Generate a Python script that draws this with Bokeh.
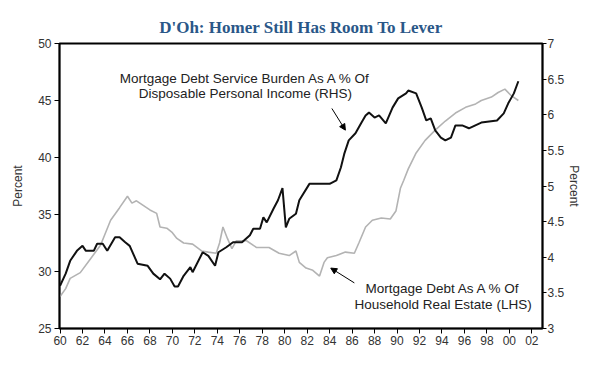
from bokeh.plotting import figure
from bokeh.models import Range1d, LinearAxis, FixedTicker, Arrow, NormalHead, ColumnDataSource
from bokeh.core.properties import value
from bokeh.embed import file_html
from bokeh.resources import INLINE

# Mortgage debt as % of household real estate (LHS)
lhs_years = [1960.0, 1960.5, 1960.9, 1961.8, 1962.7, 1963.6, 1964.5, 1965.3, 1966.0, 1966.4,
             1966.8, 1967.4, 1968.0, 1968.6, 1968.9, 1969.5, 1970.0, 1970.4, 1971.0, 1971.8,
             1972.6, 1973.2, 1973.9, 1974.2, 1974.5, 1974.9, 1975.3, 1975.7, 1976.6, 1977.5,
             1978.6, 1979.5, 1980.4, 1981.0, 1981.3, 1981.9, 1982.5, 1983.1, 1983.5, 1983.8,
             1984.6, 1985.4, 1986.2, 1986.6, 1987.2, 1987.8, 1988.6, 1989.4, 1989.9, 1990.3,
             1990.6, 1991.0, 1991.7, 1992.5, 1993.4, 1994.3, 1995.2, 1996.1, 1997.0, 1997.5,
             1998.4, 1999.0, 1999.6, 2000.2, 2000.8]
lhs_values = [27.8, 28.5, 29.4, 29.9, 31.1, 32.3, 34.5, 35.6, 36.6, 36.0,
              36.2, 35.8, 35.4, 35.1, 33.9, 33.8, 33.4, 32.9, 32.5, 32.4,
              31.8, 31.7, 31.6, 32.5, 33.9, 32.9, 32.0, 32.7, 32.7, 32.1,
              32.1, 31.6, 31.4, 31.8, 30.8, 30.3, 30.1, 29.6, 30.8, 31.2,
              31.4, 31.7, 31.6, 32.5, 33.9, 34.5, 34.7, 34.6, 35.3, 37.3,
              38.0, 39.0, 40.4, 41.5, 42.4, 43.2, 43.9, 44.4, 44.7, 45.0,
              45.3, 45.7, 46.0, 45.4, 45.0]

# Mortgage debt service burden as % of disposable personal income (RHS)
rhs_years = [1960.0, 1960.5, 1960.9, 1961.5, 1962.0, 1962.3, 1963.0, 1963.3, 1963.8, 1964.2,
             1964.9, 1965.3, 1965.8, 1966.2, 1966.9, 1967.8, 1968.3, 1968.9, 1969.3, 1969.8,
             1970.2, 1970.5, 1971.0, 1971.6, 1971.8, 1972.7, 1973.2, 1973.8, 1974.1, 1974.8,
             1975.4, 1976.2, 1976.9, 1977.2, 1977.8, 1978.1, 1978.4, 1979.0, 1979.4, 1979.8,
             1980.1, 1980.4, 1981.0, 1981.3, 1982.2, 1982.6, 1984.0, 1984.6, 1985.0, 1985.3,
             1985.7, 1986.3, 1986.8, 1987.2, 1987.5, 1988.0, 1988.4, 1989.0, 1989.6, 1990.1,
             1990.8, 1991.0, 1991.7, 1992.2, 1992.6, 1993.0, 1993.4, 1993.9, 1994.3, 1994.8,
             1995.2, 1995.8, 1996.4, 1997.5, 1998.9, 1999.5, 1999.9, 2000.4, 2000.8]
rhs_values = [3.60, 3.77, 3.95, 4.09, 4.16, 4.09, 4.09, 4.19, 4.19, 4.09,
              4.28, 4.28, 4.21, 4.16, 3.91, 3.88, 3.77, 3.69, 3.77, 3.70,
              3.59, 3.59, 3.74, 3.86, 3.79, 4.07, 4.02, 3.88, 4.07, 4.14,
              4.21, 4.21, 4.31, 4.40, 4.40, 4.56, 4.49, 4.68, 4.80, 4.97,
              4.42, 4.54, 4.61, 4.80, 5.03, 5.03, 5.03, 5.08, 5.26, 5.45,
              5.64, 5.74, 5.88, 5.99, 6.03, 5.96, 5.99, 5.88, 6.10, 6.23,
              6.30, 6.34, 6.30, 6.10, 5.92, 5.95, 5.78, 5.68, 5.64, 5.68,
              5.85, 5.85, 5.81, 5.89, 5.92, 6.02, 6.16, 6.30, 6.47]

x_ticks = list(range(1960, 2003, 2))
x_tick_labels = ["60", "62", "64", "66", "68", "70", "72", "74", "76", "78", "80", "82",
                 "84", "86", "88", "90", "92", "94", "96", "98", "00", "02"]
lhs_ticks = [25, 30, 35, 40, 45, 50]
rhs_ticks = [3, 3.5, 4, 4.5, 5, 5.5, 6, 6.5, 7]
rhs_tick_labels = ["3", "3.5", "4", "4.5", "5", "5.5", "6", "6.5", "7"]

title_text = "D'Oh: Homer Still Has Room To Lever"
axis_title = "Percent"
rhs_note = ["Mortgage Debt Service Burden As A % Of", "Disposable Personal Income (RHS)"]
lhs_note = ["Mortgage Debt As A % Of", "Household Real Estate (LHS)"]

FONT = "Liberation Sans"
TXT = "#333333"

p = figure(width=584, height=350, output_backend="svg", toolbar_location=None,
           x_range=Range1d(1959.95, 2002.95), y_range=Range1d(25, 50),
           min_border_left=59, min_border_right=40, min_border_top=43, min_border_bottom=22)
p.extra_y_ranges = {"rhs": Range1d(3, 7)}

p.title.text = title_text
p.title.align = "center"
p.title.vertical_align = "top"
p.title.text_font = "Liberation Serif"
p.title.text_font_size = "17px"
p.title.text_color = "#2a5788"
p.title.text_font_style = "bold"

p.xgrid.visible = False
p.ygrid.visible = False
p.outline_line_color = "black"
p.outline_line_width = 2
p.background_fill_color = "white"
p.border_fill_color = "white"

rax = LinearAxis(y_range_name="rhs")
p.add_layout(rax, "right")

p.xaxis.ticker = FixedTicker(ticks=x_ticks)
p.xaxis.major_label_overrides = {t: l for t, l in zip(x_ticks, x_tick_labels)}
p.yaxis[0].ticker = FixedTicker(ticks=lhs_ticks)
rax.ticker = FixedTicker(ticks=rhs_ticks)
rax.major_label_overrides = {t: l for t, l in zip(rhs_ticks, rhs_tick_labels)}

p.yaxis[0].axis_label = axis_title
rax.axis_label = axis_title

for ax in p.axis:
    ax.axis_line_color = "black"
    ax.axis_line_width = 1.5
    ax.major_tick_line_color = "black"
    ax.major_tick_out = 5
    ax.major_tick_in = 0
    ax.minor_tick_line_color = None
    ax.major_label_text_font = FONT
    ax.major_label_text_font_size = "12px"
    ax.major_label_text_color = TXT
    ax.axis_label_text_font = FONT
    ax.axis_label_text_font_size = "12px"
    ax.axis_label_text_font_style = "normal"
    ax.axis_label_text_color = TXT
    ax.major_label_standoff = 3

p.xaxis.major_label_standoff = 2
p.yaxis[0].axis_label_standoff = 10
rax.major_tick_out = 4
rax.major_label_standoff = 1
rax.axis_label_standoff = 0

src_l = ColumnDataSource(dict(x=lhs_years, y=lhs_values))
src_r = ColumnDataSource(dict(x=rhs_years, y=rhs_values))
p.line("x", "y", source=src_l, line_color="#b3b3b3", line_width=1.6)
p.line("x", "y", source=src_r, line_color="#111111", line_width=2, y_range_name="rhs")

note_src = ColumnDataSource(dict(
    x=[1976.5, 1976.5, 1994.1, 1994.1],
    y=[46.9, 45.6, 28.5, 27.1],
    t=rhs_note + lhs_note))
p.text("x", "y", text="t", source=note_src, text_font=value(FONT), text_font_size="13.5px",
       text_color="#222222", text_align="center", text_baseline="middle")

p.add_layout(Arrow(end=NormalHead(size=6, fill_color="black", line_color="black"),
                   x_start=1984.2, y_start=44.3, x_end=1985.4, y_end=42.4,
                   line_color="black", line_width=1))
p.add_layout(Arrow(end=NormalHead(size=6, fill_color="black", line_color="black"),
                   x_start=1986.2, y_start=29.0, x_end=1984.1, y_end=30.3,
                   line_color="black", line_width=1))

open("out.html", "w").write(file_html(p, INLINE))
